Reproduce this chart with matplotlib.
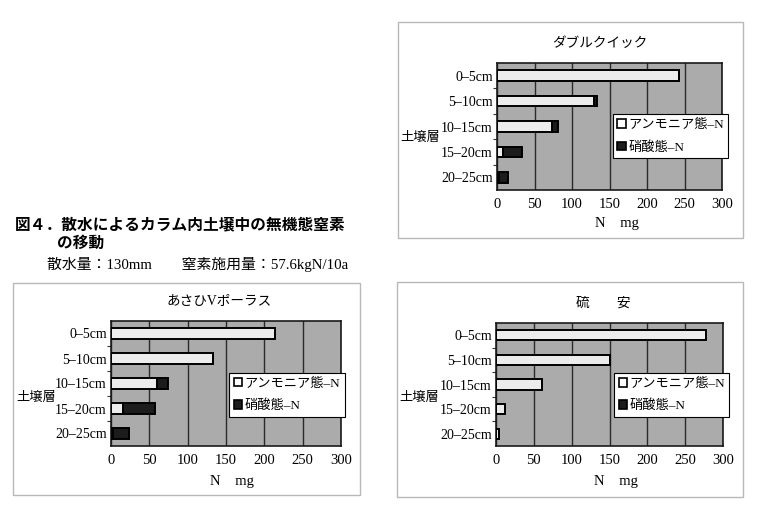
import matplotlib
matplotlib.use('Agg')
import matplotlib.pyplot as plt
from matplotlib.patches import Rectangle, Patch

# ---------------- data ----------------
categories = ['0–5cm', '5–10cm', '10–15cm', '15–20cm', '20–25cm']
series_names = ['アンモニア態–N', '硝酸態–N']

dq_nh4 = [242, 129, 73, 8, 3]      # ダブルクイック
dq_no3 = [1, 4, 8, 25, 12]
av_nh4 = [214, 133, 60, 15, 3]     # あさひVポーラス
av_no3 = [0, 0, 14, 43, 21]
ry_nh4 = [278, 151, 61, 12, 4]     # 硫安
ry_no3 = [0, 0, 0, 0, 0]

xticks = [0, 50, 100, 150, 200, 250, 300]

# ---------------- figure ----------------
W, H = 757, 509
SERIF = ['Liberation Serif', 'Noto Sans CJK JP']
plt.rcParams['font.family'] = SERIF
fig = plt.figure(figsize=(W / 100, H / 100), dpi=100)
fig.patch.set_facecolor('white')


def fx(x):
    return x / W


def fy(y):
    return 1 - y / H


def box(x0, y0, x1, y1):
    fig.patches.append(Rectangle((fx(x0), fy(y1)), fx(x1) - fx(x0), fy(y0) - fy(y1),
                                 transform=fig.transFigure, fill=False,
                                 edgecolor='#b8b8b8', lw=1.0))


def text(x, y, s, size=10, **kw):
    fig.text(fx(x), fy(y), s, fontsize=size, ha=kw.pop('ha', 'center'),
             va=kw.pop('va', 'center'), **kw)


def panel(rect, title, title_xy, ylab_xy, xlab_xy, nh4, no3, leg_anchor):
    x0, y0, x1, y1 = rect
    ax = fig.add_axes([fx(x0), fy(y1), fx(x1) - fx(x0), fy(y0) - fy(y1)])
    ax.set_facecolor('#ababab')
    ypos = list(range(len(categories)))
    ax.barh(ypos, nh4, height=0.42, color='#ececec', edgecolor='black', lw=1.4, zorder=3)
    ax.barh(ypos, no3, left=nh4, height=0.42, color='#1c1c1c', edgecolor='black', lw=1.4, zorder=3)
    ax.set_xlim(0, 300)
    ax.set_ylim(len(categories) - 0.5, -0.5)
    ax.set_xticks(xticks)
    ax.set_xticklabels([str(t) for t in xticks], fontsize=10.5)
    ax.set_yticks(ypos)
    ax.set_yticklabels(categories, fontsize=10)
    ax.set_yticks([i + 0.5 for i in ypos[:-1]], minor=True)
    ax.tick_params(axis='y', which='major', length=0, pad=3)
    ax.tick_params(axis='y', which='minor', length=3, width=0.8, color='#333')
    ax.tick_params(axis='x', length=0, pad=6)
    ax.grid(axis='x', color='#2a2a2a', lw=1.0, zorder=1)
    ax.set_axisbelow(True)
    for sp in ax.spines.values():
        sp.set_color('#1a1a1a')
        sp.set_linewidth(1.2)
    handles = [Patch(facecolor='white', edgecolor='black', lw=1.2),
               Patch(facecolor='#1c1c1c', edgecolor='black', lw=1.2)]
    leg = ax.legend(handles, series_names, loc='lower left', bbox_to_anchor=leg_anchor,
                    frameon=True, fancybox=False, edgecolor='black', framealpha=1,
                    handlelength=0.65, handleheight=0.65, handletextpad=0.15,
                    borderpad=0.35, labelspacing=0.75, borderaxespad=0,
                    prop={'size': 9.5, 'family': SERIF})
    leg.get_frame().set_linewidth(0.8)
    leg.set_zorder(5)
    text(*title_xy, title, size=9.8)
    text(*ylab_xy, '土壌層', size=9.5)
    text(*xlab_xy, 'N　mg', size=10.5)
    return ax


# boxes
box(398, 22, 743, 238)
box(13, 283, 360, 495)
box(397, 282, 743, 497)

panel((497, 63, 722, 190), 'ダブルクイック', (600, 43), (420, 138), (617, 223),
      dq_nh4, dq_no3, (0.515, 0.25))
panel((111, 321, 341, 446), 'あさひVポーラス', (219, 302), (36, 398), (232, 482),
      av_nh4, av_no3, (0.514, 0.234))
panel((496, 323, 723, 446), '硫　　安', (603, 303), (419, 398), (616, 482),
      ry_nh4, ry_no3, (0.52, 0.236))

# figure caption
text(15, 224, '図４．散水によるカラム内土壌中の無機態窒素', size=11.3, ha='left',
     family='Noto Sans CJK JP', fontweight='bold')
text(57, 243, 'の移動', size=11.3, ha='left', family='Noto Sans CJK JP', fontweight='bold')
text(47, 264, '散水量：130mm　　窒素施用量：57.6kgN/10a', size=10.7, ha='left')

fig.savefig('out.png', dpi=100)
